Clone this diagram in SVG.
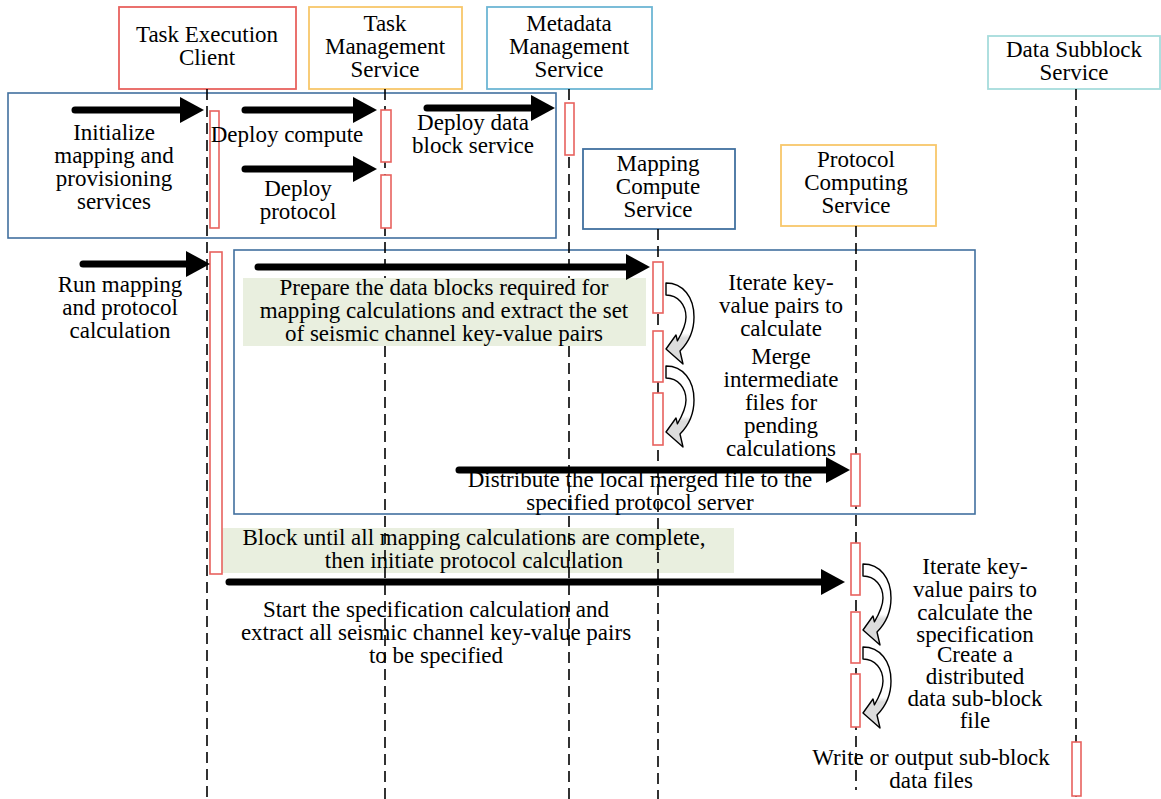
<svg xmlns="http://www.w3.org/2000/svg" width="1161" height="799" viewBox="0 0 1161 799" font-family="Liberation Serif, Times New Roman, serif" font-size="23">
<style>
text{fill:#000;text-anchor:middle}
.hdr{fill:#fff;stroke-width:1.8}
.life{stroke:#000;stroke-width:1.6;stroke-dasharray:11 6;fill:none}
.act{fill:#fff;stroke:#E8625E;stroke-width:1.6}
.frame{fill:none;stroke:#41709F;stroke-width:1.6}
.note{fill:#E9EFDF}
.arr{stroke:#000;stroke-width:7;stroke-linecap:round;fill:none;marker-end:url(#head)}
.self{fill:url(#selfg);stroke:#000;stroke-width:1.4;stroke-linejoin:round}
</style>
<defs>
<marker id="head" markerUnits="userSpaceOnUse" markerWidth="24" markerHeight="26" viewBox="0 0 24 26" refX="4" refY="13" orient="auto">
<path d="M0 0 L24 13 L0 26 Z" fill="#000"/>
</marker>
<linearGradient id="selfg" x1="0" y1="0" x2="0" y2="1">
<stop offset="0.62" stop-color="#fff"/>
<stop offset="0.68" stop-color="#DCDCDC"/>
</linearGradient>
<path id="selfcall" class="self" d="M0 0 C17 0 28 14 28 34 C28 50 22 60 14 68 L17 81 L0 66 L10 52 L11.4 57.8 C16 50 20 42 20 34 C20 22 12 12 0 12 Z"/>
</defs>
<rect width="1161" height="799" fill="#fff"/>

<g id="frames">
<rect class="frame" x="8" y="93" width="548" height="145"/>
<rect class="frame" x="234" y="250" width="741" height="264"/>
</g>
<rect id="note-prepare" class="note" x="243" y="278" width="403" height="68"/>
<rect id="note-block" class="note" x="209" y="528" width="525" height="45"/>

<g id="tec">
<rect class="hdr" x="119" y="7" width="177" height="82" stroke="#E8625E"/>
<text x="207" y="42">Task Execution</text>
<text x="207" y="65">Client</text>
<line class="life" x1="207" y1="89" x2="207" y2="799"/>
<rect class="act" x="210" y="111" width="9" height="117"/>
<rect class="act" x="210" y="252" width="12" height="322"/>
</g>
<g id="tms">
<rect class="hdr" x="309" y="7" width="153" height="82" stroke="#F8C76A"/>
<text x="385" y="31">Task</text>
<text x="385" y="54">Management</text>
<text x="385" y="77">Service</text>
<line class="life" x1="385" y1="89" x2="385" y2="278"/>
<line class="life" x1="385" y1="346" x2="385" y2="799"/>
<rect class="act" x="381" y="110" width="10" height="52" fill="none"/>
<rect class="act" x="381" y="175" width="10" height="53" fill="none"/>
</g>
<g id="mms">
<rect class="hdr" x="487" y="7" width="165" height="82" stroke="#6DB6D4"/>
<text x="569" y="31">Metadata</text>
<text x="569" y="54">Management</text>
<text x="569" y="77">Service</text>
<line class="life" x1="569" y1="89" x2="569" y2="278"/>
<line class="life" x1="569" y1="346" x2="569" y2="799"/>
<rect class="act" x="565" y="103" width="9" height="52" fill="none"/>
</g>
<g id="mcs">
<rect class="hdr" x="583" y="149" width="152" height="80" stroke="#41709F"/>
<text x="658" y="171">Mapping</text>
<text x="658" y="194">Compute</text>
<text x="658" y="217">Service</text>
<line class="life" x1="658" y1="229" x2="658" y2="799"/>
<rect class="act" x="653" y="262" width="10" height="51" fill="none"/>
<rect class="act" x="653" y="331" width="10" height="51" fill="none"/>
<rect class="act" x="653" y="393" width="10" height="52" fill="none"/>
</g>
<g id="pcs">
<rect class="hdr" x="781" y="145" width="155" height="81" stroke="#F8C76A"/>
<text x="856" y="167">Protocol</text>
<text x="856" y="190">Computing</text>
<text x="856" y="213">Service</text>
<line class="life" x1="856" y1="226" x2="856" y2="790"/>
<rect class="act" x="851" y="454" width="9" height="52" fill="none"/>
<rect class="act" x="851" y="543" width="9" height="52" fill="none"/>
<rect class="act" x="851" y="612" width="9" height="51" fill="none"/>
<rect class="act" x="851" y="674" width="9" height="53" fill="none"/>
</g>
<g id="dss">
<rect class="hdr" x="988" y="36" width="172" height="53" stroke="#A6DCDC"/>
<text x="1074" y="57">Data Subblock</text>
<text x="1074" y="80">Service</text>
<line class="life" x1="1076" y1="89" x2="1076" y2="799"/>
<rect class="act" x="1072" y="742" width="9" height="54" fill="none"/>
</g>

<g id="connectors">
<line class="arr" x1="75" y1="110" x2="184" y2="110"/>
<line class="arr" x1="245" y1="110" x2="357" y2="110"/>
<line class="arr" x1="245" y1="169" x2="357" y2="169"/>
<line class="arr" x1="427" y1="108" x2="535" y2="108"/>
<line class="arr" x1="83" y1="264" x2="190" y2="264"/>
<line class="arr" x1="258" y1="267" x2="630" y2="267"/>
<line class="arr" x1="459" y1="470" x2="830" y2="470"/>
<line class="arr" x1="229" y1="582" x2="825" y2="582"/>
<use href="#selfcall" x="666" y="283"/>
<use href="#selfcall" x="666" y="366"/>
<use href="#selfcall" x="863" y="564"/>
<use href="#selfcall" x="863" y="647"/>
</g>

<g id="labels">
<text x="114" y="140">Initialize</text>
<text x="114" y="163">mapping and</text>
<text x="114" y="186">provisioning</text>
<text x="114" y="209">services</text>
<text x="287" y="142">Deploy compute</text>
<text x="298" y="196">Deploy</text>
<text x="298" y="219">protocol</text>
<text x="473" y="130">Deploy data</text>
<text x="473" y="153">block service</text>
<text x="120" y="292">Run mapping</text>
<text x="120" y="315">and protocol</text>
<text x="120" y="338">calculation</text>
<text x="444" y="295">Prepare the data blocks required for</text>
<text x="444" y="318">mapping calculations and extract the set</text>
<text x="444" y="341">of seismic channel key-value pairs</text>
<text x="781" y="290">Iterate key-</text>
<text x="781" y="313">value pairs to</text>
<text x="781" y="336">calculate</text>
<text x="781" y="364">Merge</text>
<text x="781" y="387">intermediate</text>
<text x="781" y="410">files for</text>
<text x="781" y="433">pending</text>
<text x="781" y="456">calculations</text>
<text x="640" y="487">Distribute the local merged file to the</text>
<text x="640" y="510">specified protocol server</text>
<text x="474" y="545">Block until all mapping calculations are complete,</text>
<text x="474" y="568">then initiate protocol calculation</text>
<text x="436" y="617">Start the specification calculation and</text>
<text x="436" y="640">extract all seismic channel key-value pairs</text>
<text x="436" y="663">to be specified</text>
<text x="975" y="574">Iterate key-</text>
<text x="975" y="597">value pairs to</text>
<text x="975" y="620">calculate the</text>
<text x="975" y="642">specification</text>
<text x="975" y="662">Create a</text>
<text x="975" y="684">distributed</text>
<text x="975" y="706">data sub-block</text>
<text x="975" y="728">file</text>
<text x="931" y="765">Write or output sub-block</text>
<text x="931" y="788">data files</text>
</g>
</svg>
